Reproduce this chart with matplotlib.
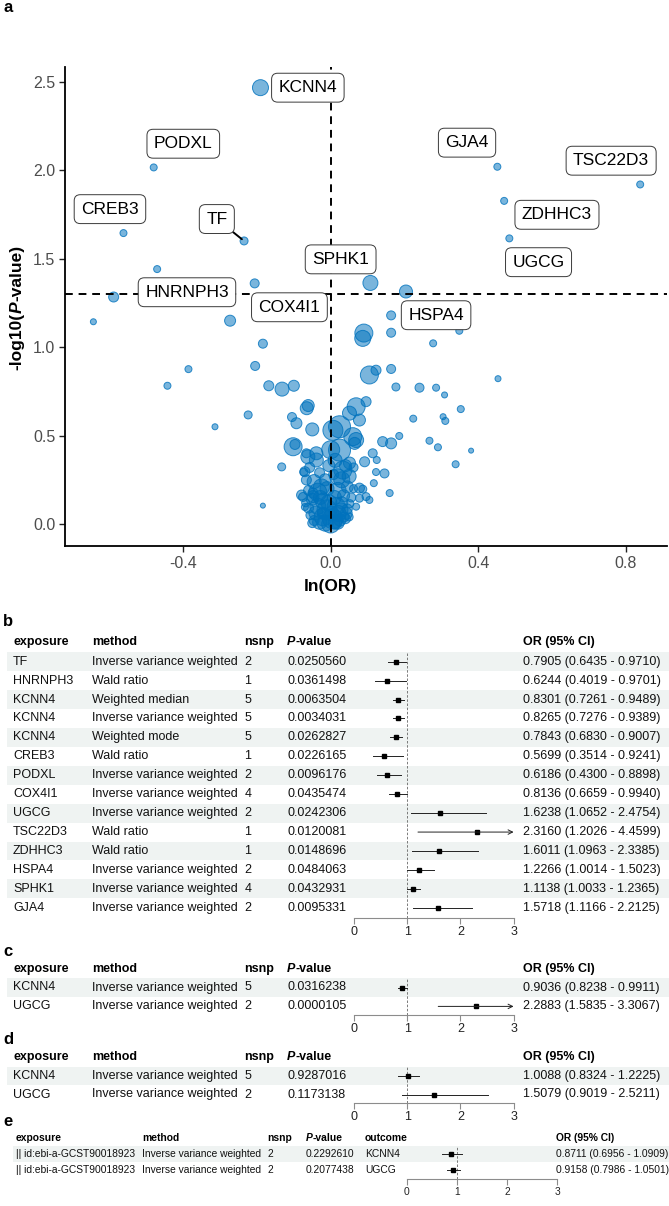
import numpy as np
import matplotlib
matplotlib.use('Agg')
import matplotlib.pyplot as plt
from matplotlib.patches import Rectangle

plt.rcParams['font.family'] = ['Liberation Sans', 'DejaVu Sans']

########################################################################
# panel a: labelled genes (OR and P taken from table b)
lab_gene = ['KCNN4', 'PODXL', 'CREB3', 'TF', 'HNRNPH3', 'COX4I1',
            'SPHK1', 'GJA4', 'TSC22D3', 'ZDHHC3', 'UGCG', 'HSPA4']
lab_or = [0.8265, 0.6186, 0.5699, 0.7905, 0.6244, 0.8136,
          1.1138, 1.5718, 2.3160, 1.6011, 1.6238, 1.2266]
lab_p = [0.0034031, 0.0096176, 0.0226165, 0.0250560, 0.0361498, 0.0435474,
         0.0432931, 0.0095331, 0.0120081, 0.0148696, 0.0242306, 0.0484063]
lab_size = [16, 7, 7, 8, 7, 9, 15, 7, 7, 7, 7, 13]

# panel a: the other genes (ln(OR), -log10(P), size)
oth_lnor = [-0.589, -0.644, -0.273, -0.184, -0.386, -0.443, -0.205, -0.168, -0.132, -0.100,
            -0.224, -0.314, -0.184, -0.133,
            -0.065, -0.061, -0.105, -0.093, -0.050, -0.102, -0.097, -0.062, -0.039, -0.057,
            -0.073, -0.066, -0.070, -0.075, -0.048, -0.025, -0.039, -0.066, -0.070, -0.079, -0.048,
            0.164, 0.164, 0.090, 0.087, 0.105, 0.123, 0.164, 0.177, 0.069, 0.096,
            0.051, 0.078, 0.024, 0.006, 0.060, 0.069, 0.065, 0.024, 0.000, 0.141,
            0.164, 0.186, 0.114, 0.125, 0.092, 0.123, 0.146, 0.033, 0.019, 0.051,
            0.117, 0.078, 0.096, 0.160, 0.105, 0.087, 0.078, 0.069, 0.042,
            0.349, 0.278, 0.454, 0.241, 0.286, 0.309, 0.353, 0.224, 0.305, 0.311,
            0.268, 0.291, 0.381, 0.339,
            -0.045, -0.030, -0.015, 0.000, 0.012, 0.025, 0.036, -0.055, -0.040, -0.020,
            0.005, 0.020, 0.045, -0.060, -0.035, -0.010, 0.015, 0.030, 0.052, -0.068,
            -0.050, -0.020, 0.010, 0.035, 0.056, -0.060, -0.035, -0.010, 0.020, 0.045,
            0.062, -0.045, -0.015, 0.030, 0.050, 0.008, -0.030, 0.040, 0.062, -0.005,
            0.012, -0.020, 0.028, -0.005, 0.003, -0.028, 0.040, -0.050, 0.050, 0.020]
oth_logp = [1.284, 1.144, 1.150, 1.020, 0.876, 0.782, 0.894, 0.782, 0.763, 0.782,
            0.617, 0.550, 0.104, 0.323,
            0.655, 0.670, 0.605, 0.570, 0.535, 0.437, 0.450, 0.380, 0.362, 0.320,
            0.293, 0.249, 0.096, 0.153, 0.175, 0.210, 0.400, 0.400, 0.296, 0.164, 0.155,
            1.180, 1.082, 1.080, 1.050, 0.843, 0.870, 0.877, 0.775, 0.663, 0.692,
            0.627, 0.588, 0.550, 0.530, 0.494, 0.475, 0.456, 0.418, 0.420, 0.466,
            0.456, 0.498, 0.400, 0.362, 0.352, 0.294, 0.286, 0.305, 0.267, 0.345,
            0.231, 0.203, 0.155, 0.175, 0.136, 0.197, 0.146, 0.098, 0.060,
            1.093, 1.022, 0.822, 0.771, 0.771, 0.730, 0.650, 0.596, 0.607, 0.583,
            0.471, 0.434, 0.415, 0.338,
            0.020, 0.010, 0.005, 0.000, 0.010, 0.022, 0.040, 0.050, 0.062, 0.040,
            0.030, 0.060, 0.085, 0.090, 0.100, 0.080, 0.100, 0.120, 0.115, 0.120,
            0.140, 0.130, 0.150, 0.160, 0.150, 0.190, 0.180, 0.200, 0.190, 0.210,
            0.200, 0.240, 0.250, 0.250, 0.270, 0.280, 0.290, 0.330, 0.320, 0.330,
            0.360, 0.060, 0.080, 0.120, 0.060, 0.150, 0.030, 0.005, 0.040, 0.005]
oth_size = [10, 6, 11, 9, 7, 7, 9, 10, 14, 11,
            8, 6, 5, 8,
            13, 12, 9, 11, 13, 18, 10, 14, 14, 10,
            8, 10, 7, 9, 10, 16, 13, 9, 10, 10, 12,
            9, 9, 18, 16, 18, 10, 9, 8, 18, 10,
            14, 12, 22, 20, 18, 15, 12, 22, 18, 10,
            11, 7, 9, 7, 10, 7, 9, 18, 16, 12,
            7, 10, 8, 7, 7, 8, 8, 7, 12,
            7, 7, 6, 9, 7, 6, 7, 7, 6, 7,
            7, 7, 5, 7,
            10, 14, 16, 18, 14, 12, 10, 9, 14, 18,
            20, 16, 10, 10, 16, 20, 18, 12, 8, 8,
            12, 16, 14, 12, 9, 10, 18, 14, 16, 12,
            8, 14, 12, 16, 14, 10, 10, 12, 9, 12,
            14, 12, 14, 16, 14, 14, 10, 9, 8, 12]

x_ticks = [-0.4, 0.0, 0.4, 0.8]
y_ticks = [0.0, 0.5, 1.0, 1.5, 2.0, 2.5]

# label box centres (layout, data units of panel a)
lab_box = {'KCNN4': (-0.062, 2.468), 'PODXL': (-0.400, 2.151), 'CREB3': (-0.599, 1.781),
           'TF': (-0.309, 1.725), 'HNRNPH3': (-0.390, 1.311), 'COX4I1': (-0.112, 1.226),
           'SPHK1': (0.027, 1.497), 'GJA4': (0.370, 2.157), 'TSC22D3': (0.761, 2.055),
           'ZDHHC3': (0.614, 1.749), 'UGCG': (0.564, 1.481), 'HSPA4': (0.286, 1.181)}

########################################################################
# panels b-e
b_exposure = ['TF', 'HNRNPH3', 'KCNN4', 'KCNN4', 'KCNN4', 'CREB3', 'PODXL', 'COX4I1',
              'UGCG', 'TSC22D3', 'ZDHHC3', 'HSPA4', 'SPHK1', 'GJA4']
b_method = ['Inverse variance weighted', 'Wald ratio', 'Weighted median',
            'Inverse variance weighted', 'Weighted mode', 'Wald ratio',
            'Inverse variance weighted', 'Inverse variance weighted',
            'Inverse variance weighted', 'Wald ratio', 'Wald ratio',
            'Inverse variance weighted', 'Inverse variance weighted',
            'Inverse variance weighted']
b_nsnp = [2, 1, 5, 5, 5, 1, 2, 4, 2, 1, 1, 2, 4, 2]
b_pval = ['0.0250560', '0.0361498', '0.0063504', '0.0034031', '0.0262827', '0.0226165',
          '0.0096176', '0.0435474', '0.0242306', '0.0120081', '0.0148696', '0.0484063',
          '0.0432931', '0.0095331']
b_or = [0.7905, 0.6244, 0.8301, 0.8265, 0.7843, 0.5699, 0.6186, 0.8136,
        1.6238, 2.3160, 1.6011, 1.2266, 1.1138, 1.5718]
b_lo = [0.6435, 0.4019, 0.7261, 0.7276, 0.6830, 0.3514, 0.4300, 0.6659,
        1.0652, 1.2026, 1.0963, 1.0014, 1.0033, 1.1166]
b_hi = [0.9710, 0.9701, 0.9489, 0.9389, 0.9007, 0.9241, 0.8898, 0.9940,
        2.4754, 4.4599, 2.3385, 1.5023, 1.2365, 2.2125]

c_exposure = ['KCNN4', 'UGCG']
c_method = ['Inverse variance weighted', 'Inverse variance weighted']
c_nsnp = [5, 2]
c_pval = ['0.0316238', '0.0000105']
c_or = [0.9036, 2.2883]
c_lo = [0.8238, 1.5835]
c_hi = [0.9911, 3.3067]

d_exposure = ['KCNN4', 'UGCG']
d_method = ['Inverse variance weighted', 'Inverse variance weighted']
d_nsnp = [5, 2]
d_pval = ['0.9287016', '0.1173138']
d_or = [1.0088, 1.5079]
d_lo = [0.8324, 0.9019]
d_hi = [1.2225, 2.5211]

e_exposure = ['|| id:ebi-a-GCST90018923', '|| id:ebi-a-GCST90018923']
e_method = ['Inverse variance weighted', 'Inverse variance weighted']
e_nsnp = [2, 2]
e_pval = ['0.2292610', '0.2077438']
e_outcome = ['KCNN4', 'UGCG']
e_or = [0.8711, 0.9158]
e_lo = [0.6956, 0.7986]
e_hi = [1.0909, 1.0501]

ci_ticks = [0, 1, 2, 3]

########################################################################
W, H = 669, 1206
fig = plt.figure(figsize=(W / 100, H / 100), dpi=100)


def fx(px):
    return px / W


def fy(py):
    return 1 - py / H


# overlay in pixel units for table text and row shading
ov = fig.add_axes([0, 0, 1, 1])
ov.set_xlim(0, W)
ov.set_ylim(H, 0)
ov.axis('off')

blue = (0.0, 0.447, 0.741)

# ---------------- panel a ----------------
ax = fig.add_axes([fx(65), fy(546), fx(667) - fx(65), fy(67) - fy(546)])
ax.set_xlim(-0.721, 0.9126)
ax.set_ylim(-0.1244, 2.585)

px_x = np.concatenate([np.log(lab_or), oth_lnor])
px_y = np.concatenate([-np.log10(lab_p), oth_logp])
sz = (0.72 * np.concatenate([lab_size, oth_size])) ** 2
order = np.argsort(-sz)
ax.scatter(px_x[order], px_y[order], s=sz[order], facecolor=blue + (0.52,),
           edgecolor=blue + (0.8,), linewidth=0.7, zorder=2)

ax.axhline(-np.log10(0.05), color='black', lw=1.4, ls=(0, (4, 3)), zorder=3)
ax.axvline(0, color='black', lw=1.4, ls=(0, (4, 3)), zorder=3)

box = dict(boxstyle='round,pad=0.4,rounding_size=0.35', fc='white', ec='#3a3a3a', lw=0.7)
for g, o, p in zip(lab_gene, lab_or, lab_p):
    bx, by = lab_box[g]
    if g == 'TF':
        ax.annotate(g, xy=(np.log(o), -np.log10(p)), xytext=(bx, by), ha='center', va='center',
                    fontsize=12.5, bbox=box, zorder=5,
                    arrowprops=dict(arrowstyle='-', color='black', lw=1.4, shrinkA=0, shrinkB=2))
    else:
        ax.text(bx, by, g, ha='center', va='center', fontsize=12.5, bbox=box, zorder=5)

for s in ['top', 'right']:
    ax.spines[s].set_visible(False)
for s in ['left', 'bottom']:
    ax.spines[s].set_linewidth(1.3)
ax.set_xticks(x_ticks)
ax.set_xticklabels(['%.1f' % v for v in x_ticks])
ax.set_yticks(y_ticks)
ax.set_yticklabels(['%.1f' % v for v in y_ticks])
ax.tick_params(length=4, width=1.0, color='#222222', labelsize=11.5,
               labelcolor='#4D4D4D', pad=3)

ov.text(330, 587, 'ln(OR)', ha='center', va='center', fontsize=12.5, weight='bold')
t1 = ov.text(17, 370, '-log10(', rotation=90, ha='center', va='bottom',
             fontsize=12.5, weight='bold')
t2 = ov.annotate('P', xy=(0.5, 1), xycoords=t1, rotation=90, ha='center', va='bottom',
                 fontsize=12.5, weight='bold', style='italic')
ov.annotate('-value)', xy=(0.5, 1), xycoords=t2, rotation=90, ha='center', va='bottom',
            fontsize=12.5, weight='bold')
ov.text(3, 7, 'a', ha='left', va='center', fontsize=12, weight='bold')


# ---------------- forest tables ----------------
def forest(letter, let_y, head_y, row_y0, step, axis_y, heads, cols, col_x,
           ors, los, his, or0, unit, fs, shade_x0):
    n = len(ors)
    ov.text(3, let_y, letter, ha='left', va='center', fontsize=12, weight='bold')
    for i in range(n):
        if i % 2 == 0:
            ov.add_patch(Rectangle((shade_x0, row_y0 + i * step - step / 2), W - shade_x0, step,
                                   fc='#eff3f2', ec='none', zorder=0))
    for h, x in zip(heads, col_x):
        if h == 'P-value':
            t = ov.text(x, head_y, 'P', ha='left', va='center', fontsize=fs,
                        weight='bold', style='italic')
            ov.annotate('-value', xy=(1, 0), xycoords=t, ha='left', va='bottom',
                        fontsize=fs, weight='bold')
        else:
            ov.text(x, head_y, h, ha='left', va='center', fontsize=fs, weight='bold')
    for col, x in zip(cols, col_x):
        for i, v in enumerate(col):
            ov.text(x, row_y0 + i * step, str(v), ha='left', va='center', fontsize=fs,
                    color='#111111')
    ci_txt = ['%.4f (%.4f - %.4f)' % (o, l, h) for o, l, h in zip(ors, los, his)]
    for i, v in enumerate(ci_txt):
        ov.text(col_x[-1], row_y0 + i * step, v, ha='left', va='center', fontsize=fs,
                color='#111111')

    fa = fig.add_axes([fx(or0), fy(axis_y), fx(or0 + 3 * unit) - fx(or0),
                       fy(row_y0 - step / 2) - fy(axis_y)])
    fa.patch.set_alpha(0)
    fa.set_xlim(0, 3)
    fa.set_ylim((axis_y - row_y0) / step, -0.5)
    for s in ['top', 'left', 'right']:
        fa.spines[s].set_visible(False)
    fa.spines['bottom'].set_color('#8c8c8c')
    fa.spines['bottom'].set_linewidth(0.8)
    fa.spines['bottom'].set_bounds(0, 3)
    fa.set_yticks([])
    fa.set_xticks(ci_ticks)
    fa.set_xticklabels([str(v) for v in ci_ticks])
    fa.tick_params(axis='x', length=4, width=0.8, color='#8c8c8c', labelsize=fs,
                   labelcolor='#222222', pad=2)
    fa.axvline(1, color='#666666', lw=0.6, ls=(0, (3, 2)), zorder=1)
    for i in range(n):
        if his[i] > 3:
            fa.annotate('', xy=(3, i), xytext=(los[i], i),
                        arrowprops=dict(arrowstyle='->', lw=0.7, color='#222222',
                                        shrinkA=0, shrinkB=0, mutation_scale=8),
                        annotation_clip=False)
        else:
            fa.plot([los[i], his[i]], [i, i], color='#222222', lw=0.7, clip_on=False)
        fa.plot(ors[i], i, marker='s', ms=2.3, color='black', clip_on=False)


std_heads = ['exposure', 'method', 'nsnp', 'P-value', 'OR (95% CI)']
std_x = [13, 92, 244.5, 287, 522.7]

forest('b', 622, 641.7, 661.7, 18.93, 918, std_heads,
       [b_exposure, b_method, b_nsnp, b_pval], std_x,
       b_or, b_lo, b_hi, 354, 53.2, 9, 7)
forest('c', 952, 969, 987.5, 18.9, 1015, std_heads,
       [c_exposure, c_method, c_nsnp, c_pval], std_x,
       c_or, c_lo, c_hi, 354, 53.2, 9, 7)
forest('d', 1040, 1057, 1076, 18.5, 1103, std_heads,
       [d_exposure, d_method, d_nsnp, d_pval], std_x,
       d_or, d_lo, d_hi, 354, 53.2, 9, 7)
forest('e', 1122, 1138, 1154, 16, 1179,
       ['exposure', 'method', 'nsnp', 'P-value', 'outcome', 'OR (95% CI)'],
       [e_exposure, e_method, e_nsnp, e_pval, e_outcome],
       [16, 142, 267, 306, 365, 556],
       e_or, e_lo, e_hi, 407, 50, 7.4, 13)

fig.savefig('out.png', dpi=100)
